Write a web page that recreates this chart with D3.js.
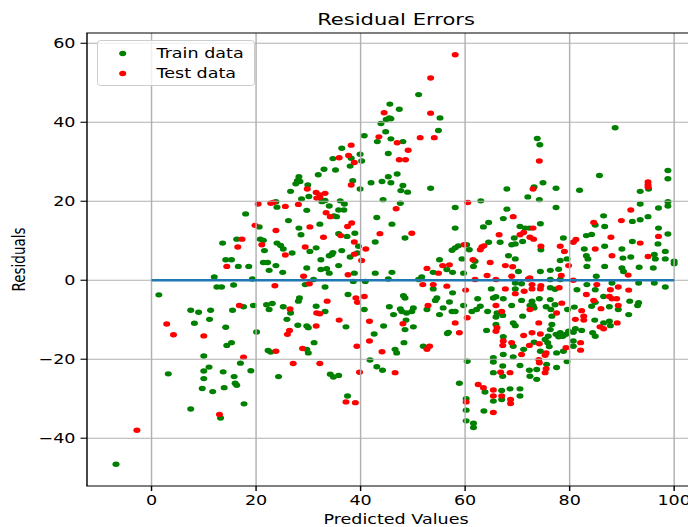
<!DOCTYPE html>
<html><head><meta charset="utf-8">
<script src="https://cdn.jsdelivr.net/npm/d3@7"></script>
<style>html,body{margin:0;padding:0;background:#fff;overflow:hidden}svg{display:block}</style>
</head><body><svg id="c" width="688" height="527"></svg>
<script>
// ---- data ----
const trainData = [
[24.0,18.5],[18.0,16.8],[20.6,13.5],[13.6,9.4],[16.3,10.4],[20.8,10.4],[21.4,10.1],[21.6,7.5],[24.0,9.4],[24.7,8.8],[14.2,5.2],[15.3,5.2],[16.6,3.5],[18.6,3.5],[21.4,4.5],[22.2,4.5],[22.5,2.5],[23.8,3.7],[12.0,0.8],[19.3,0.3],[12.5,-1.7],[13.4,-1.7],[15.7,-1.2],[1.4,-3.7],[7.5,-7.6],[9.0,-8.1],[11.3,-7.6],[15.5,-7.6],[17.6,-6.7],[19.5,-6.4],[22.0,-6.2],[23.1,-5.9],[22.5,-7.4],[8.2,-10.9],[11.1,-9.9],[14.2,-11.9],[20.1,-13.1],[14.4,-16.5],[15.3,-15.8],[22.3,-17.8],[22.8,-18.2],[10.0,-19.2],[17.0,-21.0],[3.2,-23.7],[11.0,-22.0],[10.0,-23.0],[13.7,-23.2],[19.0,-22.9],[15.8,-24.4],[10.0,-24.9],[16.0,-26.1],[16.3,-26.6],[9.7,-27.4],[11.7,-28.2],[13.9,-27.2],[24.3,-24.4],[17.7,-31.3],[7.5,-32.6],[13.2,-34.9],[-6.8,-46.6],
[51.1,47.0],[45.6,44.6],[47.4,43.3],[44.9,40.7],[45.5,41.1],[45.8,40.9],[43.9,39.7],[55.2,41.1],[54.9,37.9],[40.7,36.6],[44.8,37.6],[45.8,35.8],[43.2,35.1],[48.1,35.1],[36.4,33.4],[45.3,32.1],[39.9,31.9],[34.7,30.8],[38.2,30.9],[40.2,30.2],[38.0,28.9],[33.0,28.1],[35.2,27.9],[31.9,26.7],[47.0,26.9],[45.3,26.2],[28.2,26.2],[38.5,25.2],[27.9,25.2],[28.4,25.0],[27.6,24.4],[42.0,24.7],[44.1,25.0],[45.8,24.7],[29.9,24.1],[48.1,24.0],[53.4,23.3],[39.9,23.1],[47.7,22.7],[49.0,22.3],[26.6,22.5],[30.1,21.2],[28.7,20.6],[32.6,19.9],[33.2,20.2],[36.1,20.1],[44.3,20.4],[47.6,19.5],[58.1,18.4],[23.8,19.9],[34.0,18.8],[36.9,19.3],
[29.7,17.7],[36.8,17.8],[35.8,17.8],[34.9,16.3],[35.4,16.1],[26.2,15.1],[43.1,15.9],[46.0,14.2],[32.2,14.2],[28.2,13.2],[28.6,11.5],[38.9,11.9],[35.8,11.8],[37.4,11.1],[48.5,10.7],[58.1,13.2],[42.8,9.7],[25.2,7.9],[30.3,7.3],[31.5,8.2],[26.9,6.9],[34.7,7.0],[36.4,7.5],[39.6,8.6],[39.4,6.9],[38.0,5.9],[34.0,6.2],[34.5,6.5],[32.4,5.2],[35.8,3.7],[29.7,3.1],[32.4,2.7],[33.5,2.9],[34.0,1.8],[25.1,2.0],[38.8,1.8],[42.8,1.8],[46.0,2.0],[31.0,0.2],[45.3,0.3],[38.6,-0.3],[40.9,-0.3],[29.4,-1.1],[33.2,-1.7],[51.7,0.8],[51.1,0.2],[53.9,2.0],[55.1,5.2],[56.5,2.7],[57.6,2.0],[57.5,7.6],[58.1,8.2],[58.7,8.7],[59.4,5.4],[59.7,1.8],[53.9,-2.2],[57.6,-3.2],[37.6,-3.6],[48.2,-3.9],[48.5,-4.5],[28.3,-4.5],[54.6,-4.5],
[28.1,-5.3],[25.2,-6.7],[26.6,-8.3],[25.9,-9.9],[31.5,-6.6],[33.2,-7.9],[37.2,-11.8],[40.7,-7.4],[45.5,-6.7],[46.3,-8.7],[47.6,-7.3],[47.9,-7.9],[48.8,-8.3],[49.8,-7.9],[50.1,-7.0],[48.7,-10.1],[50.1,-11.8],[48.5,-12.5],[44.4,-11.6],[42.6,-13.6],[29.7,-11.6],[30.0,-12.0],[28.0,-11.4],[31.1,-15.8],[29.7,-17.5],[30.0,-18.4],[34.2,-23.8],[34.8,-24.5],[35.8,-24.1],[37.5,-29.3],[41.8,-20.2],[43.1,-21.9],[44.2,-22.8],[46.6,-17.5],[46.9,-18.4],[48.3,-15.8],[52.0,-16.7],[58.9,-26.1],[60.2,-30.0],[60.2,-32.9],[60.2,-35.6],[55.1,-8.7],[52.7,-7.4],[57.5,-7.9],[58.1,-7.9],[55.8,-7.0],[57.0,-5.5],[56.8,-13.2],[56.6,-13.5],[59.7,-6.4],[60.4,-20.5],[54.3,-5.1],
[63.0,20.1],[73.8,35.9],[74.3,34.3],[74.9,24.7],[73.2,23.6],[68.0,23.1],[72.0,21.1],[74.2,20.4],[77.4,23.3],[68.0,18.0],[77.4,18.4],[81.9,22.8],[85.7,26.5],[88.7,38.6],[93.5,22.5],[95.1,23.1],[98.8,27.8],[98.8,25.7],[93.5,19.3],[97.0,18.3],[98.8,19.9],[98.8,18.8],
[67.3,15.6],[86.5,16.3],[93.5,15.3],[95.0,16.1],[92.0,14.9],[84.9,14.0],[86.7,13.6],[97.0,13.2],[98.8,11.7],[64.5,14.6],[63.5,13.5],[70.5,13.6],[71.5,13.2],[72.3,13.2],[74.4,14.3],[71.0,9.8],[69.4,10.7],[66.7,9.6],[64.5,9.6],[78.8,10.7],[83.2,11.3],[84.2,11.6],[92.0,9.8],[96.9,9.2],[60.3,9.0],[60.8,7.7],[68.9,9.0],[69.6,9.2],[74.5,7.7],[82.8,7.9],[86.7,8.6],[90.0,7.9],[96.2,6.5],[96.4,5.4],[98.3,7.3],[98.3,5.4],[100.0,4.8],[100.0,4.2],[83.2,6.2],[83.5,5.4],[90.2,5.6],[91.7,5.9],[68.3,6.2],[69.6,5.4],[61.9,4.8],[61.6,3.5],[70.2,2.2],[78.2,5.0],[79.5,5.4],[76.3,2.5],[77.9,2.8],[74.4,2.2],[83.3,3.5],[86.7,3.5],[90.0,3.1],[90.3,2.2],[93.3,3.3],[96.0,3.1],[85.1,1.0],[76.3,0.2],[78.2,0.2],[69.6,-0.7],[70.8,-0.9],[83.3,-1.1],[88.1,-0.7],[93.2,-0.7],[96.2,-0.7],[98.3,-1.7],[65.0,-2.2],[69.6,-2.2],[76.3,-1.9],[77.2,-2.3],[81.4,-2.4],[84.9,-2.4],[86.5,-4.1],[91.5,-5.3],[93.2,-5.7],[93.0,-6.4],[91.3,-8.7],[84.9,-5.6],[84.2,-6.6],[87.6,-6.7],[89.3,-7.4],[80.9,-6.8],[79.6,-7.4],[84.8,-10.1],[86.5,-10.8],[87.6,-10.4],[87.8,-11.5],[84.4,-13.3],[84.9,-14.2],[82.3,-12.7],[81.1,-12.3],[80.7,-13.2],[79.8,-12.9],[79.3,-13.7],[78.7,-14.2],[80.7,-15.4],[80.7,-16.7],[78.8,-18.0],[77.5,-18.4],[79.5,-20.6],[78.2,-13.3],[77.9,-14.3],[77.4,-13.7],[76.6,-11.2],[76.3,-12.5],[75.9,-14.2],[75.3,-15.0],[75.8,-15.8],[76.1,-16.8],[76.3,-4.9],[77.2,-6.2],[76.4,-7.4],[75.5,-6.7],[76.6,-9.1],[74.2,-4.7],[72.8,-5.3],[72.4,-6.4],[73.0,-6.4],[73.2,-7.0],[70.8,-5.1],[68.9,-6.4],[67.3,-4.7],[65.9,-4.2],[67.2,-8.9],[66.1,-8.3],[65.9,-9.3],[64.3,-7.9],[62.9,-6.6],[62.2,-7.4],[61.3,-7.9],[62.4,-4.7],[65.4,-4.5],[69.2,-10.8],[69.6,-11.5],[71.0,-9.1],[65.9,-11.2],[64.1,-12.7],[67.3,-14.3],[69.2,-16.7],[73.2,-15.7],[71.2,-17.5],[67.3,-18.8],[69.2,-19.4],[74.4,-18.0],[75.6,-21.3],[77.5,-22.1],[73.7,-22.6],[72.3,-22.8],[70.5,-21.6],[65.4,-19.6],[65.4,-20.7],[67.2,-21.7],[65.4,-23.4],[67.2,-24.3],[72.4,-24.3],[73.7,-25.1],[63.8,-28.3],[65.4,-30.6],[67.0,-27.9],[67.0,-30.2],[68.6,-27.5],[70.5,-27.5],[70.5,-29.3],[63.6,-33.1],[61.6,-36.2],[61.6,-37.3]
];
const testData = [
[20.4,19.3],[22.8,19.5],[19.8,13.9],[23.8,12.6],[17.3,10.4],[16.5,8.4],[21.1,9.0],[14.4,3.5],[23.6,-1.4],[16.8,-6.4],[2.9,-11.1],[4.2,-13.8],[10.0,-14.1],[23.8,-18.0],[17.6,-19.5],[13.0,-34.0],[-2.8,-38.0],
[58.1,57.1],[53.4,51.2],[44.5,42.4],[53.4,42.3],[43.5,36.3],[47.0,34.8],[51.4,36.1],[54.1,36.1],[38.2,34.2],[49.1,32.9],[37.7,31.6],[35.9,31.0],[47.4,30.5],[48.6,30.5],[38.8,29.8],[38.2,24.1],[29.8,23.1],[31.5,22.2],[33.2,22.0],[32.2,21.6],[31.6,20.8],[32.2,21.0],[60.5,19.7],[23.3,19.7],[25.6,18.7],[28.1,19.2],[46.8,18.1],
[33.4,17.1],[34.2,16.1],[38.3,14.5],[37.5,13.6],[30.3,13.5],[36.2,11.3],[32.9,10.9],[43.7,11.8],[49.8,11.9],[59.8,9.0],[38.8,9.7],[29.4,8.4],[25.6,6.4],[41.0,7.9],[38.8,6.6],[40.2,5.0],[52.7,3.0],[55.7,3.7],[57.0,3.9],[54.9,1.8],[37.6,1.4],[29.1,1.0],[30.2,-0.9],[51.9,-1.1],[53.9,-1.1],[56.5,-1.5],[39.1,-4.5],[40.7,-4.1],
[39.4,-5.6],[26.5,-7.3],[33.6,-5.3],[31.6,-8.3],[32.2,-8.5],[35.9,-10.1],[41.7,-10.4],[48.1,-11.0],[41.7,-15.4],[39.3,-16.7],[31.5,-11.6],[26.4,-12.7],[26.0,-13.7],[28.9,-17.3],[27.1,-21.1],[32.2,-21.1],[37.2,-30.8],[39.0,-31.0],[46.6,-23.4],[39.8,-23.3],[44.1,-18.1],[52.7,-17.5],[53.2,-16.7],[60.2,-30.8],[52.9,-6.4],[58.1,-10.8],[58.9,-13.3],[60.4,-9.5],
[74.2,30.2],[73.0,23.1],[95.0,24.9],[95.0,24.1],[95.0,23.6],[91.7,17.8],
[69.2,16.1],[89.9,15.1],[84.6,14.6],[97.0,11.1],[73.0,13.2],[71.2,12.1],[70.5,11.5],[66.5,11.5],[72.4,10.9],[73.1,10.4],[81.2,10.3],[80.7,9.6],[87.9,10.9],[93.5,9.4],[63.2,8.4],[63.6,8.7],[62.9,7.7],[74.5,8.6],[78.2,8.6],[79.0,7.3],[84.9,7.9],[95.0,6.0],[88.1,6.2],[64.8,4.5],[61.5,5.2],[67.7,3.7],[69.1,3.4],[79.8,3.7],[91.2,1.3],[78.4,1.2],[72.4,0.6],[72.1,0.3],[68.9,1.0],[65.9,0.2],[64.2,1.2],[61.9,0.2],[80.7,0.0],[72.8,-1.1],[74.5,-1.4],[85.2,-1.1],[60.1,-2.5],[67.7,-2.2],[69.6,-3.4],[71.3,-2.8],[72.8,-2.2],[74.4,-2.2],[78.0,-1.9],[83.2,-3.6],[87.8,-2.4],[89.3,-1.7],[91.3,-2.5],[87.6,-4.1],[88.1,-4.7],[89.0,-4.7],[89.3,-6.4],[84.6,-5.1],[86.0,-7.2],[82.3,-7.7],[82.7,-9.1],[82.7,-10.1],[81.1,-9.9],[85.8,-11.8],[86.5,-12.3],[89.1,-10.8],[82.1,-15.8],[82.1,-17.7],[79.3,-17.1],[77.5,-8.3],[78.5,-5.8],[72.4,-7.4],[65.9,-6.4],[67.0,-7.9],[74.1,-10.8],[66.1,-12.0],[65.9,-12.9],[67.3,-15.4],[67.2,-16.5],[68.9,-15.8],[71.2,-14.0],[72.8,-13.3],[74.4,-13.6],[72.3,-16.5],[74.2,-16.1],[70.8,-18.8],[75.5,-18.4],[75.3,-19.0],[74.1,-20.1],[74.2,-20.9],[75.5,-22.4],[75.3,-23.4],[66.8,-23.3],[68.6,-23.4],[62.5,-26.4],[63.5,-27.2],[65.4,-27.8],[65.4,-29.3],[67.0,-29.3],[68.7,-30.2],[68.7,-31.2],[65.4,-33.5]
];
const xTicks = [0, 20, 40, 60, 80, 100];
const yTicks = [-40, -20, 0, 20, 40, 60];
const zeroLine = [0, 100];           // horizontal reference line at residual 0
const seriesNames = ["Train data", "Test data"];
const seriesColors = ["#008000", "#ff0000"];
const titleText = "Residual Errors";
const xLabel = "Predicted Values";
const yLabel = "Residuals";

// ---- layout ----
const SX = 1.3;           // the source picture is stretched horizontally
const FS = 13.5;
const R = 2.7;
const font = "'DejaVu Sans', sans-serif";
const M = {left: 87, right: 705, top: 33, bottom: 486};
const x = d3.scaleLinear().domain([-12.35, 105.9]).range([M.left, M.right]);
const y = d3.scaleLinear().domain([-52.1, 62.6]).range([M.bottom, M.top]);
const svg = d3.select("#c");

function label(g, px, py, s, size, anchor, extra) {
  return g.append("text")
    .attr("transform", `translate(${px},${py}) scale(${SX},1)` + (extra || ""))
    .attr("text-anchor", anchor)
    .attr("font-family", font).attr("font-size", size).attr("fill", "#000")
    .text(s);
}

// points
const pts = svg.append("g");
pts.selectAll("ellipse.tr").data(trainData).join("ellipse").attr("class","tr")
  .attr("cx", d => x(d[0])).attr("cy", d => y(d[1]))
  .attr("rx", R * SX).attr("ry", R).attr("fill", seriesColors[0]);
pts.selectAll("ellipse.te").data(testData).join("ellipse").attr("class","te")
  .attr("cx", d => x(d[0])).attr("cy", d => y(d[1]))
  .attr("rx", R * SX).attr("ry", R).attr("fill", seriesColors[1]);

// grid (drawn above the scatter, like matplotlib default)
const grid = svg.append("g").attr("stroke", "#b0b0b0");
grid.selectAll("line.v").data(xTicks).join("line").attr("class","v")
  .attr("x1", d => x(d)).attr("x2", d => x(d)).attr("y1", M.top).attr("y2", M.bottom)
  .attr("stroke-width", 1.1 * SX);
grid.selectAll("line.h").data(yTicks).join("line").attr("class","h")
  .attr("y1", d => y(d)).attr("y2", d => y(d)).attr("x1", M.left).attr("x2", M.right)
  .attr("stroke-width", 1.1);

// zero line
svg.append("line")
  .attr("x1", x(zeroLine[0])).attr("x2", x(zeroLine[1]))
  .attr("y1", y(0)).attr("y2", y(0))
  .attr("stroke", "#1f77b4").attr("stroke-width", 2.6);

// spines
const sp = svg.append("g").attr("stroke", "#000");
sp.append("line").attr("x1", M.left).attr("x2", M.left).attr("y1", M.top).attr("y2", M.bottom).attr("stroke-width", 1.1*SX);
sp.append("line").attr("x1", M.right).attr("x2", M.right).attr("y1", M.top).attr("y2", M.bottom).attr("stroke-width", 1.1*SX);
sp.append("line").attr("x1", M.left - 0.7).attr("x2", M.right).attr("y1", M.top).attr("y2", M.top).attr("stroke-width", 1.1);
sp.append("line").attr("x1", M.left - 0.7).attr("x2", M.right).attr("y1", M.bottom).attr("y2", M.bottom).attr("stroke-width", 1.1);

// ticks
const tk = svg.append("g");
tk.selectAll("line.xt").data(xTicks).join("line").attr("class","xt")
  .attr("x1", d => x(d)).attr("x2", d => x(d)).attr("y1", M.bottom).attr("y2", M.bottom + 5)
  .attr("stroke", "#000").attr("stroke-width", 1.1*SX);
tk.selectAll("line.yt").data(yTicks).join("line").attr("class","yt")
  .attr("y1", d => y(d)).attr("y2", d => y(d)).attr("x1", M.left - 5*SX).attr("x2", M.left)
  .attr("stroke", "#000").attr("stroke-width", 1.1);
const fmt = d => d < 0 ? "\u2212" + Math.abs(d) : String(d);
xTicks.forEach(d => label(tk, x(d), M.bottom + 19, fmt(d), FS, "middle"));
yTicks.forEach(d => label(tk, M.left - 11.5, y(d) + 5, fmt(d), FS, "end"));

// titles
label(svg, (M.left + M.right) / 2, 25, titleText, FS * 1.2, "middle");
label(svg, (M.left + M.right) / 2, 524, xLabel, FS, "middle");
label(svg, 25, (M.top + M.bottom) / 2, yLabel, FS, "middle", " rotate(-90)");

// legend
const lg = svg.append("g");
lg.append("rect").attr("x", 97.5).attr("y", 40.5).attr("width", 157).attr("height", 45)
  .attr("rx", 3).attr("fill", "#fff").attr("fill-opacity", 0.8)
  .attr("stroke", "#cccccc").attr("stroke-width", 1);
seriesNames.forEach((n, i) => {
  const cy = 53.5 + i * 20;
  lg.append("ellipse").attr("cx", 122.7).attr("cy", cy).attr("rx", R*SX).attr("ry", R).attr("fill", seriesColors[i]);
  label(lg, 156.5, cy + 4.8, n, FS, "start");
});
</script></body></html>
